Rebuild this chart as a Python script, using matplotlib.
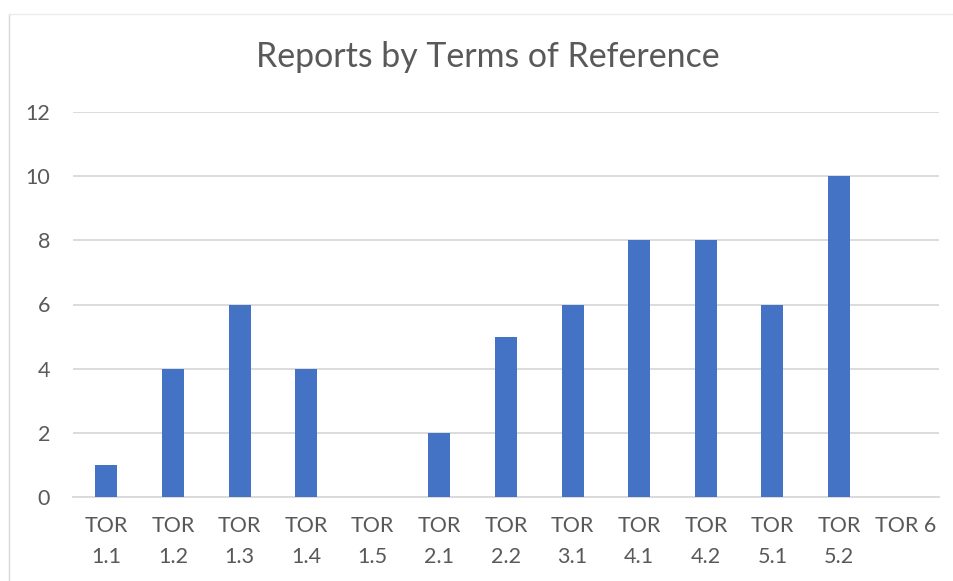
import matplotlib
matplotlib.use("Agg")
import matplotlib.pyplot as plt
from matplotlib.lines import Line2D

categories = ["TOR\n1.1", "TOR\n1.2", "TOR\n1.3", "TOR\n1.4", "TOR\n1.5", "TOR\n2.1",
              "TOR\n2.2", "TOR\n3.1", "TOR\n4.1", "TOR\n4.2", "TOR\n5.1", "TOR\n5.2", "TOR 6"]
reports = [1, 4, 6, 4, 0, 2, 5, 6, 8, 8, 6, 10, 0]
y_ticks = [0, 2, 4, 6, 8, 10, 12]

text_color = "#595959"
grid_color = "#d9d9d9"
bar_color = "#4472c4"

plt.rcParams["font.family"] = ["Lato", "DejaVu Sans"]

W, H = 954, 581
fig = plt.figure(figsize=(W / 100, H / 100), dpi=100)
ax = fig.add_axes([73 / W, 84 / H, (939 - 73) / W, (497 - 112) / H])

x = range(len(categories))
ax.bar(x, reports, width=0.33, color=bar_color, zorder=3)
ax.set_xlim(-0.5, len(categories) - 0.5)
ax.set_ylim(0, 12)
ax.set_yticks(y_ticks)
ax.set_xticks(list(x))
ax.set_xticklabels(categories, linespacing=1.65)
ax.grid(axis="y", color=grid_color, linewidth=1.3, zorder=0)
ax.tick_params(axis="both", length=0, labelsize=15.5, colors=text_color)
ax.tick_params(axis="y", pad=16.5)
ax.tick_params(axis="x", pad=14)
for side in ["top", "right", "left"]:
    ax.spines[side].set_visible(False)
ax.spines["bottom"].set_color(grid_color)
ax.spines["bottom"].set_linewidth(1.3)

fig.text(488 / W, 1 - 57 / H, "Reports by Terms of Reference", ha="center", va="center",
         fontsize=24.4, color=text_color)

# light chart border (left and top edges visible)
fig.add_artist(Line2D([9.5 / W, 9.5 / W], [0, 1 - 13.5 / H], transform=fig.transFigure,
                      color=grid_color, linewidth=1))
fig.add_artist(Line2D([9.5 / W, 1], [1 - 13.5 / H, 1 - 13.5 / H], transform=fig.transFigure,
                      color="#ececec", linewidth=1))

fig.savefig("out.png", dpi=100)
